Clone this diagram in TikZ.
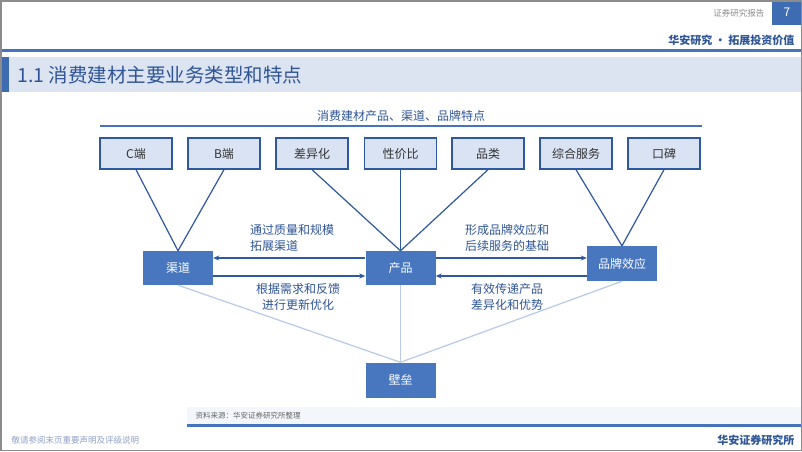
\documentclass[tikz,border=0pt]{standalone}
\usepackage{fontspec}
\setmainfont{Noto Sans CJK SC}
\usetikzlibrary{arrows.meta}
\definecolor{lineblue}{RGB}{46,89,158}
\definecolor{fillblue}{RGB}{72,119,192}
\definecolor{paleblue}{RGB}{218,227,243}
\definecolor{lightline}{RGB}{184,202,230}
\definecolor{txtblue}{RGB}{47,85,151}
\definecolor{accent}{RGB}{62,108,178}
\definecolor{band}{RGB}{220,228,242}
\definecolor{hdrline}{RGB}{70,115,190}
\definecolor{srcband}{RGB}{243,246,251}
\tikzset{
 topbox/.style={draw=lineblue, line width=1.3pt, fill=paleblue, minimum width=72pt, minimum height=31pt, inner sep=0pt, font=\fontsize{12}{14}\selectfont, text=black!80},
 midbox/.style={fill=fillblue, minimum width=70pt, minimum height=34pt, inner sep=0pt, text=white, font=\fontsize{12}{14}\selectfont},
 conn/.style={draw=lineblue, line width=1.2pt},
 arr/.style={draw=lineblue, line width=1.3pt, -{Stealth[length=6pt,width=5pt]}},
 weak/.style={draw=lightline, line width=1.2pt},
 lbl/.style={text=txtblue, font=\fontsize{12}{16}\selectfont, inner sep=0pt},
}
\begin{document}
\begin{tikzpicture}[x=1pt,y=-1pt]
\useasboundingbox (0,0) rectangle (802,451);
\fill[white] (0,0) rectangle (802,451);
% header
\node[text=black!45, font=\fontsize{8.5}{10}\selectfont, anchor=east] (hdr1) at (768,13) {证券研究报告};
\fill[accent] (772,0) rectangle (802,25);
\node[text=white, font=\fontsize{12}{14}\selectfont] (pg) at (787,12.5) {7};
\node[text=txtblue, font=\bfseries\fontsize{11}{13}\selectfont, anchor=east] (hdr2) at (798,40) {华安研究 · 拓展投资价值};
\fill[hdrline] (0,48.5) rectangle (802,51.5);
\fill[band] (0,57) rectangle (802,92);
\fill[accent] (0,57) rectangle (9,92);
\node[text=txtblue, font=\fontsize{19.5}{22}\selectfont, anchor=west] (title) at (14,75) {1.1 消费建材主要业务类型和特点};
% subtitle
\node[lbl] (sub) at (401,116) {消费建材产品、渠道、品牌特点};
\draw[hdrline, line width=1.5pt] (100,126) -- (702,126);
% top boxes
\node[topbox] (c) at (136,153.5) {C端};
\node[topbox] (b) at (224,153.5) {B端};
\node[topbox] (d) at (312,153.5) {差异化};
\node[topbox] (x) at (400.5,153.5) {性价比};
\node[topbox] (p) at (488,153.5) {品类};
\node[topbox] (s) at (576,153.5) {综合服务};
\node[topbox] (k) at (664,153.5) {口碑};
% middle boxes
\node[midbox] (qd) at (178,268) {渠道};
\node[midbox] (cp) at (400.5,268) {产品};
\node[midbox, minimum height=35pt] (pp) at (622,263.5) {品牌效应};
\node[midbox, minimum height=35pt] (bl) at (400.5,380) {壁垒};
% connectors top
\draw[conn] (c.south) -- (qd.north);
\draw[conn] (b.south) -- (qd.north);
\draw[conn] (d.south) -- (cp.north);
\draw[conn] (x.south) -- (cp.north);
\draw[conn] (p.south) -- (cp.north);
\draw[conn] (s.south) -- (pp.north);
\draw[conn] (k.south) -- (pp.north);
% arrows
\draw[arr] ([yshift=10pt]cp.west) -- ([yshift=10pt]qd.east);
\draw[arr] ([yshift=-8pt]qd.east) -- ([yshift=-8pt]cp.west);
\draw[arr] ([yshift=10pt]cp.east) -- ([yshift=5.5pt]pp.west);
\draw[arr] ([yshift=-12.5pt]pp.west) -- ([yshift=-8pt]cp.east);
% weak lines
\draw[weak] (qd.south) -- (bl.north);
\draw[weak] (cp.south) -- (bl.north);
\draw[weak] (pp.south) -- (bl.north);
% labels
\node[lbl, align=left, anchor=west] (l1) at (250,238) {通过质量和规模\\拓展渠道};
\node[lbl, align=left, anchor=west] (l2) at (465,238) {形成品牌效应和\\后续服务的基础};
\node[lbl, align=center] (l3) at (298,297) {根据需求和反馈\\进行更新优化};
\node[lbl, align=center] (l4) at (507,297) {有效传递产品\\差异化和优势};
% source
\fill[srcband] (187,407) rectangle (802,424);
\node[text=black!60, font=\fontsize{7.5}{9}\selectfont, anchor=west] (src) at (192,416) {资料来源：华安证券研究所整理};
\fill[hdrline] (187,424) rectangle (802,427);
% footer
\node[text=txtblue!55, font=\fontsize{8.5}{10}\selectfont, anchor=west] (ft1) at (8,440) {敬请参阅末页重要声明及评级说明};
\node[text=txtblue, font=\bfseries\fontsize{11}{13}\selectfont, anchor=east] (ft2) at (798,440) {华安证券研究所};
% frame
\draw[black!45, line width=1.5pt] (0.75,0.75) rectangle (801.25,450.25);
\end{tikzpicture}
\end{document}
